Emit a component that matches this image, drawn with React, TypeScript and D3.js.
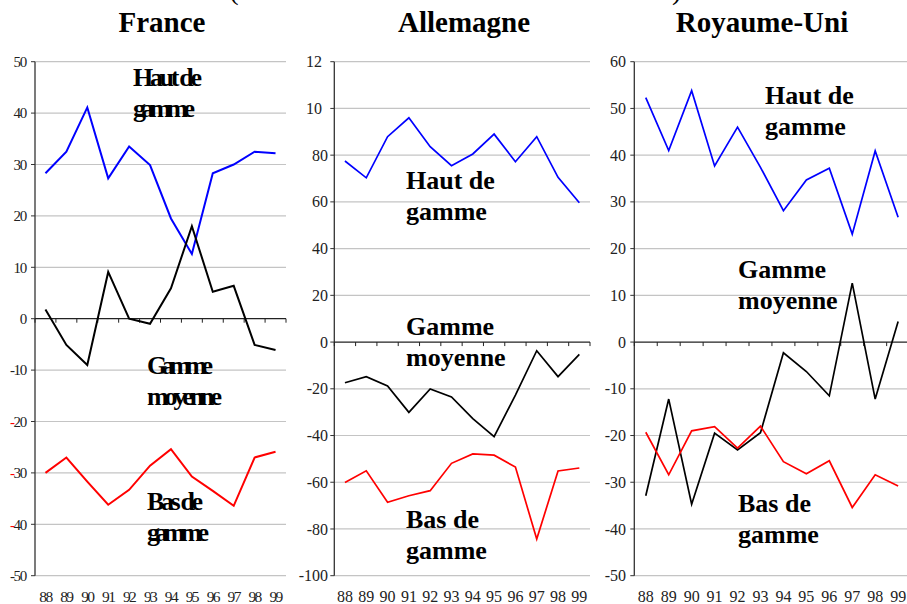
import React from "react";
import * as d3 from "d3";

const years = ["88", "89", "90", "91", "92", "93", "94", "95", "96", "97", "98", "99"];

const franceHaut = [28.3, 32.5, 41.1, 27.3, 33.5, 29.9, 19.5, 12.6, 28.3, 30.0, 32.5, 32.2];
const franceMoy = [1.8, -5.1, -9.0, 9.1, 0.0, -1.0, 5.9, 18.0, 5.25, 6.4, -5.1, -6.1];
const franceBas = [-30.0, -27.0, -31.7, -36.2, -33.3, -28.6, -25.4, -30.7, -33.5, -36.4, -27.0, -25.9];

const allHaut = [77.5, 70.3, 87.9, 96.0, 83.6, 75.5, 80.5, 89.0, 77.2, 87.9, 70.5, 59.6];
const allMoy = [-17.4, -14.8, -18.8, -30.1, -20.1, -23.5, -32.8, -40.5, -22.7, -3.7, -14.8, -5.3];
const allBas = [-60.1, -55.1, -68.6, -65.8, -63.6, -51.9, -47.9, -48.4, -53.5, -84.3, -55.2, -53.9];

const ruHaut = [52.3, 41.0, 53.8, 37.7, 46.0, 37.4, 28.1, 34.7, 37.2, 23.1, 40.9, 26.7];
const ruMoy = [-32.9, -12.2, -34.7, -19.5, -23.1, -19.4, -2.3, -6.3, -11.5, 12.6, -12.2, 4.4];
const ruBas = [-19.3, -28.4, -19.0, -18.1, -22.7, -18.0, -25.6, -28.2, -25.4, -35.4, -28.4, -30.8];

const franceTicks = [-50, -40, -30, -20, -10, 0, 10, 20, 30, 40, 50];
const franceTickLabels = ["-50", "-40", "-30", "-20", "-10", "0", "10", "20", "30", "40", "50"];
const allTicks = [-100, -80, -60, -40, -20, 0, 20, 40, 60, 80, 100, 120];
const allTickLabels = ["-100", "-80", "-60", "-40", "-20", "0", "20", "40", "60", "80", "10", "12"];
const ruTicks = [-50, -40, -30, -20, -10, 0, 10, 20, 30, 40, 50, 60];
const ruTickLabels = ["-50", "-40", "-30", "-20", "-10", "0", "10", "20", "30", "40", "50", "60"];

const titles = ["France", "Allemagne", "Royaume-Uni"];
const labelHaut = ["Haut de", "gamme"];
const labelMoy = ["Gamme", "moyenne"];
const labelBas = ["Bas de", "gamme"];

const FONT = "'Liberation Serif', 'Times New Roman', serif";

type Ann = { lines: string[]; x: number; y: number; widths?: number[] };

type Panel = {
  title: string;
  titleX: number;
  x0: number;
  x1: number;
  domain: [number, number];
  ticks: number[];
  tickLabels: string[];
  labelShift?: Record<string, number>;
  haut: number[];
  moy: number[];
  bas: number[];
  condensed: boolean;
  strokeW: number;
  labelEnd: number;
  anns: Ann[];
};

const panels: Panel[] = [
  {
    title: titles[0], titleX: 162, x0: 35, x1: 286, domain: [-50, 50],
    ticks: franceTicks, tickLabels: franceTickLabels,
    haut: franceHaut, moy: franceMoy, bas: franceBas, condensed: true, strokeW: 2, labelEnd: 26,
    anns: [
      { lines: labelHaut, x: 133, y: 86, widths: [69, 62] },
      { lines: labelMoy, x: 147, y: 374, widths: [66, 75] },
      { lines: labelBas, x: 147, y: 510, widths: [56, 62] },
    ],
  },
  {
    title: titles[1], titleX: 464, x0: 334.3, x1: 590, domain: [-100, 120],
    ticks: allTicks, tickLabels: allTickLabels, labelShift: { "10": -6, "12": -6 },
    haut: allHaut, moy: allMoy, bas: allBas, condensed: false, strokeW: 1.7, labelEnd: 328,
    anns: [
      { lines: labelHaut, x: 406, y: 189 },
      { lines: labelMoy, x: 406, y: 335 },
      { lines: labelBas, x: 406, y: 528 },
    ],
  },
  {
    title: titles[2], titleX: 762, x0: 634.3, x1: 909.6, domain: [-50, 60],
    ticks: ruTicks, tickLabels: ruTickLabels,
    haut: ruHaut, moy: ruMoy, bas: ruBas, condensed: false, strokeW: 1.7, labelEnd: 626,
    anns: [
      { lines: labelHaut, x: 765, y: 104 },
      { lines: labelMoy, x: 738, y: 278 },
      { lines: labelBas, x: 738, y: 512 },
    ],
  },
];

const Y_TOP = 61.7;
const Y_BOT = 575.7;

function PanelView({ p }: { p: Panel }) {
  const x = d3.scaleBand<string>().domain(years).range([p.x0, p.x1]);
  const y = d3.scaleLinear().domain(p.domain).range([Y_BOT, Y_TOP]);
  const line = d3
    .line<number>()
    .x((_, i) => (x(years[i]) as number) + x.bandwidth() / 2)
    .y((d) => y(d));
  const y0 = y(0);
  const boundaries = years.map((yr) => x(yr) as number).concat([p.x1]);
  const redMinus = p.condensed ? new Set(["-20", "-30", "-40"]) : new Set<string>();
  return (
    <g>
      <text x={p.titleX} y={32} textAnchor="middle" fontFamily={FONT} fontWeight="bold" fontSize={29}>
        {p.title}
      </text>
      {p.ticks.map((t) =>
        t === 0 ? null : (
          <line key={"g" + t} x1={p.x0} x2={p.x1} y1={y(t)} y2={y(t)} stroke="#c4c4c4" strokeWidth={1.2} />
        )
      )}
      <line x1={p.x0} x2={p.x0} y1={Y_TOP} y2={Y_BOT} stroke="#333" strokeWidth={1.3} />
      {p.ticks.map((t, i) => {
        const lab = p.tickLabels[i];
        const shift = p.labelShift && p.labelShift[lab] ? p.labelShift[lab] : 0;
        return (
          <g key={"t" + t}>
            <line x1={p.x0 - 4} x2={p.x0} y1={y(t)} y2={y(t)} stroke="#333" strokeWidth={1} />
            <text
              x={p.labelEnd + shift}
              y={y(t)}
              dy="0.35em"
              textAnchor="end"
              fontFamily={FONT}
              fontSize={p.condensed ? 15 : 16}
              letterSpacing={p.condensed ? -1.3 : 0}
              fill="#222"
            >
              {redMinus.has(lab) ? (
                <>
                  <tspan fill="#ff0000">-</tspan>
                  {lab.slice(1)}
                </>
              ) : (
                lab
              )}
            </text>
          </g>
        );
      })}
      <line x1={p.x0} x2={p.x1} y1={y0} y2={y0} stroke="#222" strokeWidth={1.3} />
      {boundaries.map((b, i) => (
        <line key={"b" + i} x1={b} x2={b} y1={y0} y2={y0 + 4} stroke="#222" strokeWidth={1} />
      ))}
      {years.map((yr) => (
        <text
          key={"x" + yr}
          x={(x(yr) as number) + x.bandwidth() / 2}
          y={602}
          textAnchor="middle"
          fontFamily={FONT}
          fontSize={p.condensed ? 15.5 : 16}
          letterSpacing={p.condensed ? -1.6 : 0}
          fill="#222"
        >
          {yr}
        </text>
      ))}
      <path d={line(p.haut) || ""} fill="none" stroke="#0000ff" strokeWidth={p.strokeW} />
      <path d={line(p.moy) || ""} fill="none" stroke="#000000" strokeWidth={p.strokeW} />
      <path d={line(p.bas) || ""} fill="none" stroke="#ff0000" strokeWidth={p.strokeW} />
      {p.anns.map((a, k) =>
        a.lines.map((ln, j) => (
          <text
            key={"a" + k + "-" + j}
            x={a.x}
            y={a.y + j * 31}
            fontFamily={FONT}
            fontWeight="bold"
            fontSize={26}
            textLength={a.widths ? a.widths[j] : undefined}
            lengthAdjust={a.widths ? "spacing" : undefined}
          >
            {ln}
          </text>
        ))
      )}
    </g>
  );
}

export default function App() {
  return (
    <svg
      width={907}
      height={604}
      style={{ position: "absolute", left: 0, top: 0, background: "#fff" }}
    >
      <rect x={0} y={0} width={907} height={604} fill="#fff" />
      <text x={229} y={-1} fontFamily={FONT} fontSize={29}>(</text>
      <text x={672} y={-1} fontFamily={FONT} fontSize={29}>)</text>
      {panels.map((p) => (
        <PanelView key={p.title} p={p} />
      ))}
    </svg>
  );
}
